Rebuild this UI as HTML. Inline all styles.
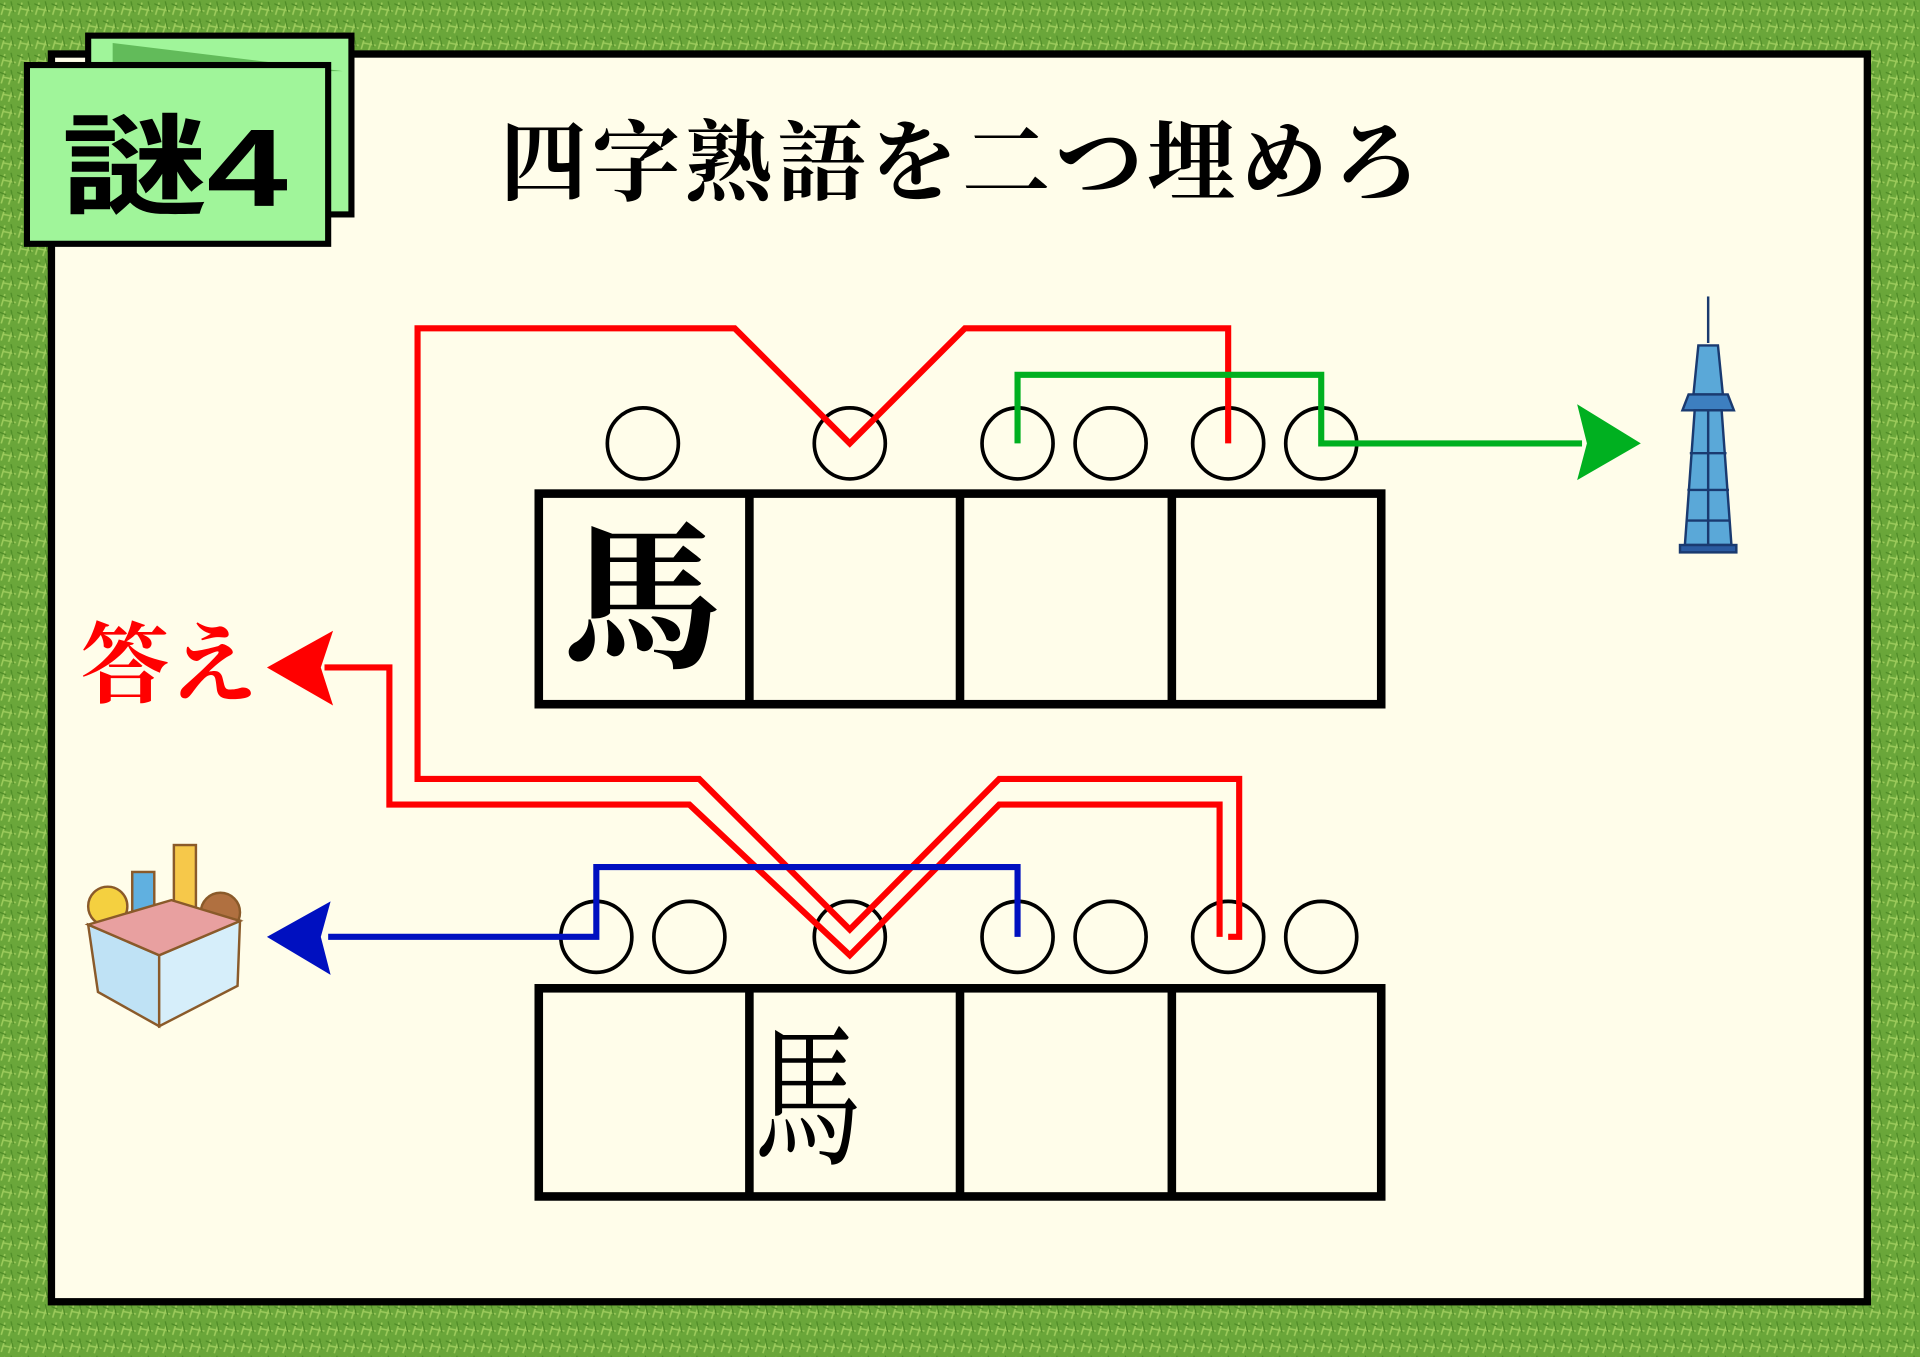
<!DOCTYPE html>
<html><head><meta charset="utf-8"><style>
html,body{margin:0;padding:0;width:1920px;height:1357px;overflow:hidden;background:#6aa338;}
svg{display:block}
</style></head><body>
<svg width="1920" height="1357" viewBox="0 0 1568 1108" xmlns="http://www.w3.org/2000/svg">
<defs>
<pattern id="g" width="14" height="14" patternUnits="userSpaceOnUse">
<rect width="14" height="14" fill="#6aa63a"/>
<path d="M1 12 L4 2 M7 13 L10 4 M3 7 L13 9" stroke="#9ccb5c" stroke-width="1.3"/>
<path d="M0 3 L5 5 M9 1 L11 10" stroke="#4d8a26" stroke-width="1"/>
</pattern>
</defs>
<rect width="1568" height="1108" fill="url(#g)"/>
<rect x="42" y="44" width="1483" height="1019" fill="#fffdea" stroke="#000" stroke-width="6"/>
<!-- tab -->
<rect x="72" y="29" width="215" height="146" fill="#a0f59a" stroke="#000" stroke-width="5"/>
<polygon points="92,35 280,58 92,58" fill="#62bb5a"/>
<rect x="22" y="53" width="246" height="146" fill="#a0f59a" stroke="#000" stroke-width="5"/>
<text x="50" y="168" font-family="'Liberation Sans','Noto Sans CJK JP',sans-serif" font-weight="bold" font-size="90" fill="#000" textLength="185" lengthAdjust="spacingAndGlyphs">謎4</text>
<text x="408" y="158" font-family="'Liberation Serif','Noto Serif CJK SC',serif" font-weight="bold" font-size="72" fill="#000" textLength="752">四字熟語を二つ埋めろ</text>
<!-- grids -->
<g fill="none" stroke="#000" stroke-width="7">
<rect x="440" y="403" width="688" height="172"/>
<line x1="612" y1="403" x2="612" y2="575"/><line x1="784" y1="403" x2="784" y2="575"/><line x1="957" y1="403" x2="957" y2="575"/>
<rect x="440" y="807" width="688" height="170"/>
<line x1="612" y1="807" x2="612" y2="977"/><line x1="784" y1="807" x2="784" y2="977"/><line x1="957" y1="807" x2="957" y2="977"/>
</g>
<text x="525" y="535" text-anchor="middle" font-family="'Liberation Serif','Noto Serif CJK SC',serif" font-weight="bold" font-size="130" fill="#000">馬</text>
<text x="660" y="935" text-anchor="middle" font-family="'Liberation Serif','Noto Serif CJK SC',serif" font-size="110" fill="#000" transform="translate(660,893) scale(0.8,1.15) translate(-660,-893)">馬</text>
<!-- circles -->
<g fill="#fffdea" stroke="#000" stroke-width="3">
<circle cx="525" cy="362" r="29"/><circle cx="694" cy="362" r="29"/><circle cx="831" cy="362" r="29"/><circle cx="907" cy="362" r="29"/><circle cx="1003" cy="362" r="29"/><circle cx="1079" cy="362" r="29"/>
<circle cx="487" cy="765" r="29"/><circle cx="563" cy="765" r="29"/><circle cx="694" cy="765" r="29"/><circle cx="831" cy="765" r="29"/><circle cx="907" cy="765" r="29"/><circle cx="1003" cy="765" r="29"/><circle cx="1079" cy="765" r="29"/>
</g>
<!-- lines -->
<g fill="none" stroke-width="5" stroke-linejoin="miter">
<path d="M1003,362 V268 H788 L694,362 L600,268 H341 V636 H571 L694,759 L816,636 H1012 V765 H1003" stroke="#ff0000"/>
<path d="M265,545 H318 V657 H563 L694,780 L816,657 H996 V765" stroke="#ff0000"/>
<path d="M831,362 V306 H1079 V362 H1292" stroke="#00b020"/>
<path d="M831,765 V708 H487 V765 H268" stroke="#0010c0"/>
</g>
<polygon points="218,545 272,515 262,545 272,576" fill="#ff0000"/>
<polygon points="1340,362 1288,330 1296,362 1288,392" fill="#00b020"/>
<polygon points="218,765 270,736 262,765 270,796" fill="#0010c0"/>
<text x="66" y="568" font-family="'Liberation Serif','Noto Serif CJK SC',serif" font-weight="bold" font-size="72" fill="#ff0000">答え</text>
<!-- skytree -->
<g stroke="#1a3a70" stroke-width="2">
<line x1="1395" y1="242" x2="1395" y2="280"/>
<polygon points="1387,282 1403,282 1407,322 1383,322" fill="#5aa8d8"/>
<polygon points="1379,322 1411,322 1416,335 1374,335" fill="#3d7fc0"/>
<polygon points="1384,335 1406,335 1414,445 1376,445" fill="#5aa8d8"/>
<line x1="1380" y1="370" x2="1410" y2="370"/><line x1="1378" y1="400" x2="1412" y2="400"/><line x1="1377" y1="425" x2="1413" y2="425"/><line x1="1395" y1="335" x2="1395" y2="445"/>
<rect x="1372" y="445" width="46" height="6" fill="#2a5aa0"/>
</g>
<!-- toy box -->
<g stroke="#8a5a2a" stroke-width="2">
<rect x="142" y="690" width="18" height="60" fill="#f6c84a"/>
<circle cx="180" cy="745" r="16" fill="#b07040"/>
<circle cx="88" cy="740" r="16" fill="#f4d040"/>
<rect x="108" y="712" width="18" height="40" fill="#60b0e0"/>
<polygon points="72,755 130,780 130,838 80,810" fill="#bfe2f5"/>
<polygon points="130,780 196,752 194,805 130,838" fill="#d6eefa"/>
<polygon points="72,755 140,735 196,752 130,780" fill="#e8a0a0"/>
</g>
</svg>
</body></html>
